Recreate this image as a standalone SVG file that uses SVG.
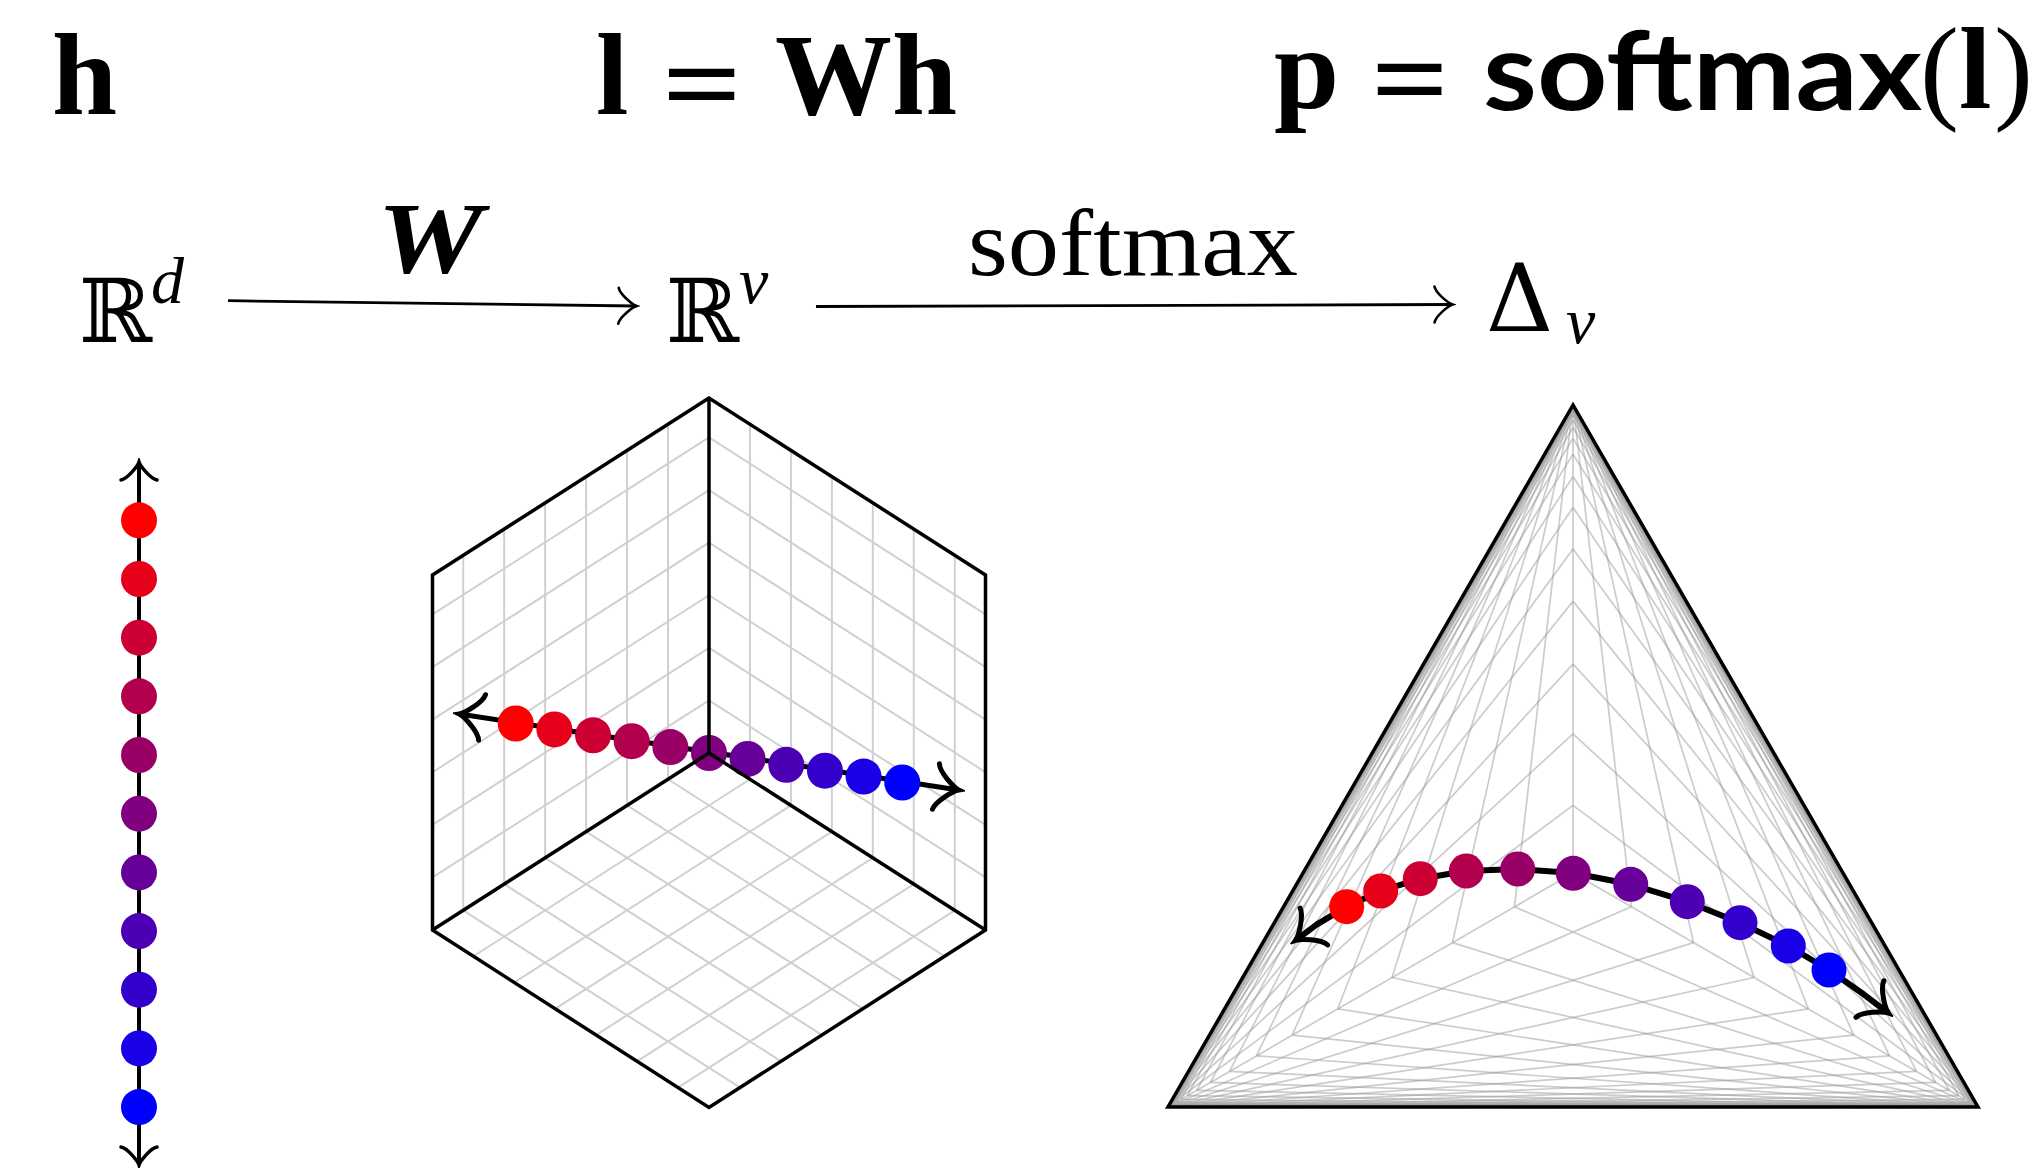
<svg xmlns="http://www.w3.org/2000/svg" width="2044" height="1168" viewBox="0 0 2044 1168">
<defs>
<style>
.tb{font-family:"Liberation Serif","Times New Roman",serif;font-weight:700;}
.tr{font-family:"Liberation Serif","Times New Roman",serif;}
.ti{font-family:"Liberation Serif","Times New Roman",serif;font-style:italic;}
.tbi{font-family:"Liberation Serif","Times New Roman",serif;font-style:italic;font-weight:700;}
.ds{font-family:"DejaVu Serif","DejaVu Sans",serif;}
.sans{font-family:Lato,"Open Sans",sans-serif;font-weight:700;}
.cg path{fill:none;stroke:#d0d0d0;stroke-width:2;}
.tg path{fill:none;stroke:#999999;stroke-opacity:0.5;stroke-width:1.7;}
.edge{fill:none;stroke:#000;stroke-width:3.5;stroke-linejoin:miter;}
.arr{fill:none;stroke:#000;stroke-width:2.8;}
</style>
<marker id="ahThin" viewBox="-22 -22 26 44" markerWidth="26" markerHeight="44" refX="0" refY="0" markerUnits="userSpaceOnUse" orient="auto-start-reverse">
<path d="M-18,-18 C-16.8,-11.25 -3.6,-1.1 0,0 C-3.6,1.1 -16.8,11.25 -18,18" fill="none" stroke="#000" stroke-width="2.6" stroke-linecap="round"/>
</marker>
<marker id="ahMid" viewBox="-22 -22 26 44" markerWidth="26" markerHeight="44" refX="0" refY="0" markerUnits="userSpaceOnUse" orient="auto-start-reverse">
<path d="M-18,-18 C-16.8,-11.25 -3.6,-1.1 0,0 C-3.6,1.1 -16.8,11.25 -18,18" fill="none" stroke="#000" stroke-width="3.5" stroke-linecap="round"/>
</marker>
<marker id="ahBig" viewBox="-28 -28 34 56" markerWidth="34" markerHeight="56" refX="0" refY="0" markerUnits="userSpaceOnUse" orient="auto-start-reverse">
<path d="M-23,-23 C-21.5,-14.4 -4.6,-1.4 0,0 C-4.6,1.4 -21.5,14.4 -23,23" fill="none" stroke="#000" stroke-width="5" stroke-linecap="round"/>
</marker>
</defs>
<rect width="2044" height="1168" fill="#fff"/>

<g id="title-h"><text class="tb" x="52" y="114" font-size="117">h</text></g>
<g id="title-l">
<text class="tb" x="596" y="114" font-size="117">l</text>
<text class="tb" x="662" y="123" font-size="117" textLength="80" lengthAdjust="spacingAndGlyphs">=</text>
<text class="tb" x="775" y="114" font-size="117">W</text>
<text class="tb" x="892" y="114" font-size="117">h</text>
</g>
<g id="title-p">
<text class="tb" x="1274" y="108" font-size="117">p</text>
<text class="tb" x="1371" y="118" font-size="117" textLength="78" lengthAdjust="spacingAndGlyphs">=</text>
<text class="sans" x="1483" y="109.5" font-size="110" textLength="439" lengthAdjust="spacingAndGlyphs">softmax</text>
<text class="tr" x="1920" y="108" font-size="117">(</text>
<text class="tb" x="1959" y="108" font-size="117">l</text>
<text class="tr" x="1994" y="108" font-size="117">)</text>
</g>

<g id="space-Rd"><text class="ds" x="79" y="342" font-size="88">ℝ</text><text class="ti" x="151" y="303" font-size="66">d</text></g>
<g id="space-Rv"><text class="ds" x="666" y="342" font-size="88">ℝ</text><text class="ti" x="739" y="303" font-size="66">v</text></g>
<g id="space-Delta"><text class="ds" x="1486" y="331" font-size="93">Δ</text><text class="ti" x="1566" y="343" font-size="66">v</text></g>

<g id="connectors">
<path class="arr" d="M228,300.7 L636.5,306" marker-end="url(#ahThin)"/>
<text class="tbi" x="377" y="273" font-size="101" textLength="106" lengthAdjust="spacingAndGlyphs">W</text>
<path class="arr" d="M816,306.5 L1452.5,304.5" marker-end="url(#ahThin)"/>
<text class="tr" x="968" y="275" font-size="96" textLength="330" lengthAdjust="spacingAndGlyphs">softmax</text>
</g>

<g id="hidden-line">
<path d="M139,462 L139,1165" fill="none" stroke="#000" stroke-width="4" marker-start="url(#ahMid)" marker-end="url(#ahMid)"/>
<circle cx="139" cy="520.3" r="18" fill="#ff0000"/>
<circle cx="139" cy="579" r="18" fill="#e6001a"/>
<circle cx="139" cy="637.7" r="18" fill="#cc0033"/>
<circle cx="139" cy="696.3" r="18" fill="#b3004d"/>
<circle cx="139" cy="755" r="18" fill="#990066"/>
<circle cx="139" cy="813.7" r="18" fill="#800080"/>
<circle cx="139" cy="872.4" r="18" fill="#660099"/>
<circle cx="139" cy="931.1" r="18" fill="#4d00b3"/>
<circle cx="139" cy="989.7" r="18" fill="#3300cc"/>
<circle cx="139" cy="1048.4" r="18" fill="#1a00e6"/>
<circle cx="139" cy="1107.1" r="18" fill="#0000ff"/>
</g>

<g id="cube">
<g class="cg">
<path d="M668.04,779.22V424.22 M627.07,805.44V450.44 M586.11,831.67V476.67 M545.15,857.89V502.89 M504.19,884.11V529.11 M463.22,910.33V555.33"/>
<path d="M709,700.41L432.5,877.41 M709,647.81L432.5,824.81 M709,595.22L432.5,772.22 M709,542.63L432.5,719.63 M709,490.04L432.5,667.04 M709,437.44L432.5,614.44"/>
<path d="M749.96,779.22V424.22 M790.93,805.44V450.44 M831.89,831.67V476.67 M872.85,857.89V502.89 M913.81,884.11V529.11 M954.78,910.33V555.33"/>
<path d="M709,700.41L985.5,877.41 M709,647.81L985.5,824.81 M709,595.22L985.5,772.22 M709,542.63L985.5,719.63 M709,490.04L985.5,667.04 M709,437.44L985.5,614.44"/>
<path d="M668.04,779.22L944.54,956.22 M627.07,805.44L903.57,982.44 M586.11,831.67L862.61,1008.67 M545.15,857.89L821.65,1034.89 M504.19,884.11L780.69,1061.11 M463.22,910.33L739.72,1087.33"/>
<path d="M749.96,779.22L473.46,956.22 M790.93,805.44L514.43,982.44 M831.89,831.67L555.39,1008.67 M872.85,857.89L596.35,1034.89 M913.81,884.11L637.31,1061.11 M954.78,910.33L678.28,1087.33"/>
</g>
<path d="M459.3,714 L958.7,790" fill="none" stroke="#000" stroke-width="5" marker-start="url(#ahBig)" marker-end="url(#ahBig)"/>
<circle cx="515.75" cy="723.5" r="18" fill="#ff0000"/>
<circle cx="554.4" cy="729.4" r="18" fill="#e6001a"/>
<circle cx="593.05" cy="735.3" r="18" fill="#cc0033"/>
<circle cx="631.7" cy="741.2" r="18" fill="#b3004d"/>
<circle cx="670.35" cy="747.1" r="18" fill="#990066"/>
<circle cx="709" cy="753" r="18" fill="#800080"/>
<circle cx="747.65" cy="758.9" r="18" fill="#660099"/>
<circle cx="786.3" cy="764.8" r="18" fill="#4d00b3"/>
<circle cx="824.95" cy="770.7" r="18" fill="#3300cc"/>
<circle cx="863.6" cy="776.6" r="18" fill="#1a00e6"/>
<circle cx="902.25" cy="782.5" r="18" fill="#0000ff"/>
<path class="edge" d="M709,398 L432.5,575 L432.5,930 L709,1107.5 L985.5,930 L985.5,575 Z M709,398 L709,753 L432.5,930 M709,753 L985.5,930"/>
</g>

<g id="simplex">
<g class="tg">
<g id="fam">
<path d="M1514.5,906.8L1977.6,1106.8"/>
<path d="M1452.5,942.6L1977.4,1106.8"/>
<path d="M1392.1,977.5L1977.1,1106.8"/>
<path d="M1337.8,1008.9L1976.7,1106.8"/>
<path d="M1292.4,1035.1L1976.2,1106.8"/>
<path d="M1256.7,1055.8L1975.3,1106.8"/>
<path d="M1229.9,1071.3L1974,1106.8"/>
<path d="M1210.5,1082.4L1972,1106.8"/>
<path d="M1196.9,1090.3L1969.1,1106.8"/>
<path d="M1187.5,1095.7L1964.7,1106.8"/>
<path d="M1181.1,1099.4L1958.2,1106.8"/>
<path d="M1176.7,1101.9L1948.5,1106.8"/>
<path d="M1173.8,1103.6L1934.5,1106.8"/>
<path d="M1171.9,1104.8L1914.2,1106.8"/>
<path d="M1170.6,1105.5L1885.5,1106.8"/>
<path d="M1169.7,1106L1846.3,1106.8"/>
<path d="M1169.1,1106.3L1794.8,1106.8"/>
<path d="M1168.8,1106.6L1730.2,1106.8"/>
<path d="M1168.5,1106.7L1654.8,1106.8"/>
<path d="M1168.3,1106.8L1573,1106.8"/>
</g>
<use href="#fam" transform="matrix(-1 0 0 1 3146 0)"/>
<use href="#fam" transform="rotate(120 1573 873)"/>
<use href="#fam" transform="rotate(120 1573 873) matrix(-1 0 0 1 3146 0)"/>
<use href="#fam" transform="rotate(240 1573 873)"/>
<use href="#fam" transform="rotate(240 1573 873) matrix(-1 0 0 1 3146 0)"/>
<path d="M1573,873 L1573,405 M1573,873 L1168,1107 M1573,873 L1978,1107"/>
</g>
<path class="edge" d="M1573,405 L1168,1107 L1978,1107 Z"/>
<path d="M1295.5,940.4 L1316.6,924.6 L1346.7,906.7 L1380.7,891 L1420.3,878.7 L1466.3,871 L1517.7,869 L1573,873 L1630.7,884.3 L1687.3,901.7 L1740,922.7 L1788.3,946 L1829,970 L1863.7,994.3 L1888.2,1013" fill="none" stroke="#000" stroke-width="6" stroke-linejoin="round" marker-start="url(#ahBig)" marker-end="url(#ahBig)"/>
<circle cx="1346.7" cy="906.7" r="17.5" fill="#ff0000"/>
<circle cx="1380.7" cy="891" r="17.5" fill="#e6001a"/>
<circle cx="1420.3" cy="878.7" r="17.5" fill="#cc0033"/>
<circle cx="1466.3" cy="871" r="17.5" fill="#b3004d"/>
<circle cx="1517.7" cy="869" r="17.5" fill="#990066"/>
<circle cx="1573.3" cy="873.3" r="17.5" fill="#800080"/>
<circle cx="1630.7" cy="884.3" r="17.5" fill="#660099"/>
<circle cx="1687.3" cy="901.7" r="17.5" fill="#4d00b3"/>
<circle cx="1740" cy="922.7" r="17.5" fill="#3300cc"/>
<circle cx="1788.3" cy="946" r="17.5" fill="#1a00e6"/>
<circle cx="1829" cy="970" r="17.5" fill="#0000ff"/>
</g>
</svg>
